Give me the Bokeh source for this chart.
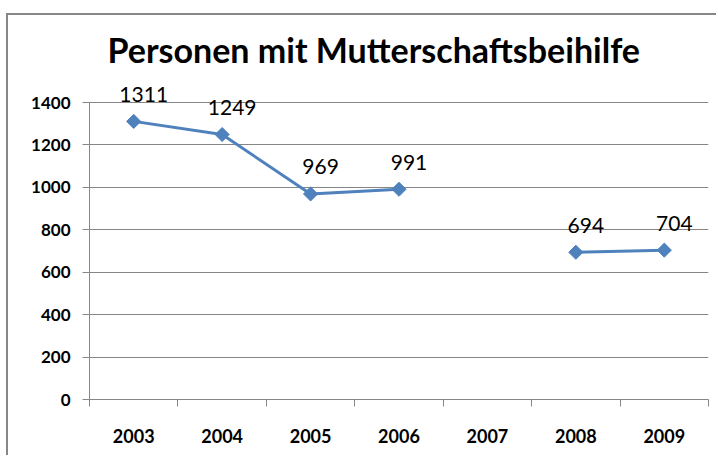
import math
from bokeh.plotting import figure
from bokeh.models import ColumnDataSource, FixedTicker, Label, Range1d
from bokeh.embed import file_html
from bokeh.resources import INLINE

years = ["2003", "2004", "2005", "2006", "2007", "2008", "2009"]
values = [1311, 1249, 969, 991, float("nan"), 694, 704]
y_ticks = [0, 200, 400, 600, 800, 1000, 1200, 1400]
title_text = "Personen mit Mutterschaftsbeihilfe"

xs = [i + 0.5 for i in range(len(years))]
src = ColumnDataSource(dict(x=xs, y=values))
px = [x for x, v in zip(xs, values) if not math.isnan(v)]
py = [v for v in values if not math.isnan(v)]
pts = ColumnDataSource(dict(x=px, y=py))

FONT = "Lato"
GRAY = "#868686"
BLUE = "#4F81BD"

# frame extends a little above the top tick so that the value labels are not clipped
y_max = y_ticks[-1]
y_end = y_max * (384 - 62) / (384 - 87)

p = figure(width=710, height=442, output_backend="svg", toolbar_location=None,
           x_range=Range1d(0, len(years)), y_range=Range1d(0, y_end),
           min_border_left=81, min_border_right=10, min_border_top=62, min_border_bottom=58,
           title=title_text)
p.styles = {"border-top": "2px solid #878787", "border-left": "2px solid #878787",
            "margin-top": "13px", "margin-left": "6px"}
p.outline_line_color = None
p.background_fill_color = "white"
p.border_fill_color = "white"

p.title.text_font = FONT
p.title.text_font_size = "34px"
p.title.text_font_style = "bold"
p.title.text_color = "black"
p.title.align = "left"
p.title.offset = 18
p.title.standoff = 15
p.title.text_line_height = 1.3

p.xaxis.ticker = FixedTicker(ticks=xs, minor_ticks=list(range(len(years) + 1)))
p.xaxis.major_label_overrides = {x: y for x, y in zip(xs, years)}
p.xaxis.major_tick_out = 0
p.xaxis.major_tick_in = 0
p.xaxis.minor_tick_out = 7
p.xaxis.minor_tick_in = 0
p.xaxis.minor_tick_line_color = GRAY
p.xaxis.axis_line_color = GRAY
p.xaxis.major_label_standoff = 22
p.xaxis.major_label_text_font = FONT
p.xaxis.major_label_text_font_size = "18px"
p.xaxis.major_label_text_font_style = "bold"
p.xaxis.major_label_text_color = "black"

p.yaxis.ticker = FixedTicker(ticks=y_ticks, minor_ticks=[])
p.yaxis.bounds = (y_ticks[0], y_max)
p.yaxis.major_tick_out = 7
p.yaxis.major_tick_in = 0
p.yaxis.major_tick_line_color = GRAY
p.yaxis.axis_line_color = GRAY
p.yaxis.major_label_standoff = 12
p.yaxis.major_label_text_font = FONT
p.yaxis.major_label_text_font_size = "17px"
p.yaxis.major_label_text_font_style = "bold"
p.yaxis.major_label_text_color = "black"

p.xgrid.grid_line_color = None
p.ygrid.grid_line_color = GRAY
p.ygrid.grid_line_width = 1

p.line("x", "y", source=src, line_color=BLUE, line_width=3)
p.scatter("x", "y", source=pts, marker="square", angle=math.pi / 4, size=10,
          fill_color=BLUE, line_color=BLUE)

for x, v in zip(px, py):
    p.add_layout(Label(x=x, y=v, text=str(int(v)), x_offset=10, y_offset=27,
                       text_align="center", text_baseline="middle", text_font=FONT,
                       text_font_size="21px", text_color="black"))

open("out.html", "w").write(file_html(p, INLINE))
